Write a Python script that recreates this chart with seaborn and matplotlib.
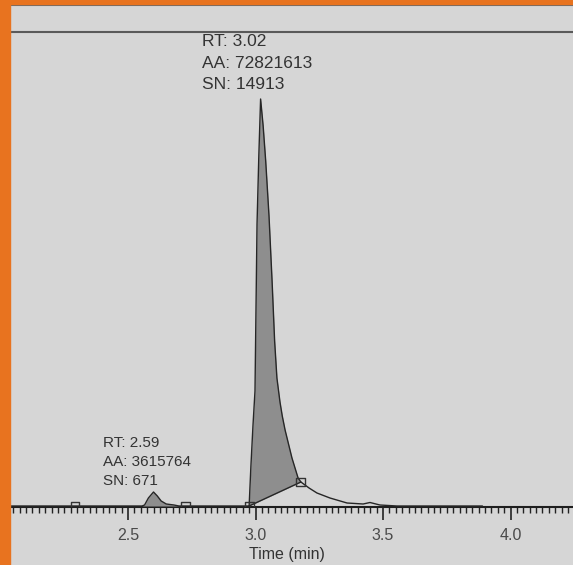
import numpy as np
import matplotlib
matplotlib.use("Agg")
import matplotlib.pyplot as plt
import matplotlib.patches as mpatches
from matplotlib.ticker import MultipleLocator
import seaborn as sns

# chromatogram trace
time = [2.037, 2.10, 2.20, 2.292, 2.40, 2.50, 2.555, 2.565, 2.58, 2.60, 2.615, 2.63,
        2.65, 2.68, 2.70, 2.727, 2.80, 2.90, 2.975, 2.982, 2.990, 2.998, 3.006, 3.013,
        3.020, 3.030, 3.040, 3.053, 3.065, 3.075, 3.084, 3.096, 3.105, 3.116, 3.143,
        3.167, 3.178, 3.21, 3.241, 3.292, 3.359, 3.422, 3.449, 3.488, 3.555, 3.606,
        3.70, 3.80, 3.89]
signal = [0, 0, 0, 0, 0, 0, 0, 1, 8, 14, 10, 5,
          2, 1, 0, 0, 0, 0, 0, 40, 80, 115, 282, 350,
          407, 380, 345, 290, 225, 165, 128, 104, 90, 76, 48,
          28, 24, 18, 13, 8, 3, 2, 3.5, 1, 0, 0,
          0, 0, 0]

# integration markers (peak start / end)
mark_times = [2.292, 2.727, 2.975, 3.178]

peak1 = {"rt": "2.59", "aa": "3615764", "sn": "671", "start": 2.555, "end": 2.70}
peak2 = {"rt": "3.02", "aa": "72821613", "sn": "14913", "start": 2.975, "end": 3.178}

xticks = [2.0, 2.5, 3.0, 3.5, 4.0]
xlabel = "Time (min)"

sns.set_theme(style="white")
plt.rcParams["font.family"] = ["Liberation Sans", "DejaVu Sans"]

W, H = 573, 565
screen = "#d6d6d6"
fig = plt.figure(figsize=(W / 100, H / 100), dpi=100, facecolor=screen)

ax = fig.add_axes([0, 1 - 507 / H, 1, (507 - 32) / H])
ax.set_facecolor(screen)

t = np.array(time)
s = np.array(signal)

sns.lineplot(x=t, y=s, ax=ax, color="#262626", lw=1.0, zorder=4)

# shaded peak areas
m1 = (t >= peak1["start"]) & (t <= peak1["end"])
ax.fill_between(t[m1], 0, s[m1], color="#8e8e8e", zorder=3, lw=0)

m2 = (t >= peak2["start"]) & (t <= peak2["end"])
base2 = np.interp(t[m2], [peak2["start"], peak2["end"]],
                  [np.interp(peak2["start"], t, s), np.interp(peak2["end"], t, s)])
ax.fill_between(t[m2], base2, s[m2], color="#8e8e8e", zorder=3, lw=0)
ax.plot([peak2["start"], peak2["end"]], base2[[0, -1]], color="#262626", lw=1.0, zorder=4)

mark_y = np.interp(mark_times, t, s)
sns.scatterplot(x=mark_times, y=mark_y, ax=ax, marker="s", s=40,
                facecolor="none", edgecolor="#333333", linewidth=1.0, zorder=5)

ax.set_xlim(2.5 - 128 / 255, 2.5 + (W - 128) / 255)
ax.set_ylim(-1, 474)
ax.set_yticks([])
ax.set_xticks(xticks)
ax.set_xticklabels([f"{v:.1f}" for v in xticks])
ax.xaxis.set_minor_locator(MultipleLocator(0.025))
ax.tick_params(axis="x", which="major", direction="out", length=9, width=1.2,
               color="#222222", labelsize=11.5, labelcolor="#4a4a4a", pad=6, bottom=True)
ax.tick_params(axis="x", which="minor", direction="out", length=4, width=1.0,
               color="#222222", bottom=True)
ax.set_xlabel(xlabel, fontsize=11.5, color="#333333", labelpad=3)

for side in ["left", "right"]:
    ax.spines[side].set_visible(False)
ax.spines["bottom"].set_color("#1e1e1e")
ax.spines["bottom"].set_linewidth(1.5)
ax.spines["top"].set_color("#5a5a5a")
ax.spines["top"].set_linewidth(1.5)

# peak annotations
def annotate(p, x, y0, step, size):
    lines = [f"RT: {p['rt']}", f"AA: {p['aa']}", f"SN: {p['sn']}"]
    for i, txt in enumerate(lines):
        fig.text(x / W, 1 - (y0 + i * step) / H, txt, fontsize=size,
                 color="#333333", va="baseline", ha="left")

annotate(peak2, 202, 46, 21.5, 12.5)
annotate(peak1, 103, 447, 19, 11)

# photo frame: orange border and the screen edge
fig.patches.append(mpatches.Rectangle((0, 0), 10 / W, 1, transform=fig.transFigure,
                                      color="#e8731f", zorder=10))
fig.patches.append(mpatches.Rectangle((0, 1 - 4 / H), 1, 4 / H, transform=fig.transFigure,
                                      color="#e8731f", zorder=10))
fig.lines.append(plt.Line2D([10 / W, 1], [1 - 5 / H, 1 - 5 / H], transform=fig.transFigure,
                            color="#6a6a6a", lw=1.5, zorder=9))

fig.savefig("out.png", dpi=100, facecolor=fig.get_facecolor())
